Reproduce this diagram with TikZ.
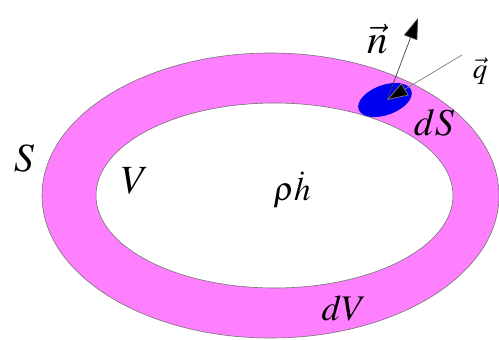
\documentclass[tikz,border=0pt]{standalone}
\usepackage{mathptmx}
\usetikzlibrary{arrows.meta}
\definecolor{ringpink}{RGB}{255,128,255}
\definecolor{patchblue}{RGB}{0,0,240}
\tikzset{
  lbl/.style={inner sep=0pt, anchor=base},
  vecline/.style={draw=black!75, line width=0.7pt, -{Triangle[length=21pt,width=14pt,fill=black]}}
}
\begin{document}
\begin{tikzpicture}[x=1pt,y=-1pt]
\useasboundingbox (0,0) rectangle (499,340);
% ring
\path[fill=ringpink, even odd rule] (270.5,195.5) ellipse [x radius=228.5, y radius=142.5]
      (274.5,195.5) ellipse [x radius=178.5, y radius=92.5];
\draw[draw=black!55, line width=0.6pt] (270.5,195.5) ellipse [x radius=228.5, y radius=142.5];
\draw[draw=black!55, line width=0.6pt] (274.5,195.5) ellipse [x radius=178.5, y radius=92.5];
% patch
\fill[patchblue, rotate around={20:(385,100)}] (385,100) ellipse [x radius=28, y radius=15];
\coordinate (p) at (387,100);
\coordinate (ntip) at (418,18);
\coordinate (qstart) at (462,55);
\draw[vecline] (p) -- (ntip);
\draw[vecline, draw=black!50] (qstart) -- (p);
% labels
\node[lbl] (nlab) at (378,53) {\fontsize{41}{45}\selectfont $\vec{n}$};
\node[lbl] (qlab) at (480,78) {\fontsize{29}{32}\selectfont $\vec{q}$};
\node[lbl] (dSlab) at (434,135) {\fontsize{38}{42}\selectfont $dS$};
\node[lbl] (Slab) at (24,171) {\fontsize{40}{44}\selectfont $S$};
\node[lbl] (Vlab) at (135,193) {\fontsize{40}{44}\selectfont $V$};
\node[lbl] (rholab) at (292,200) {\fontsize{33}{36}\selectfont $\rho\dot{h}$};
\node[lbl] (dVlab) at (344,320) {\fontsize{36}{40}\selectfont $dV$};
\end{tikzpicture}
\end{document}
